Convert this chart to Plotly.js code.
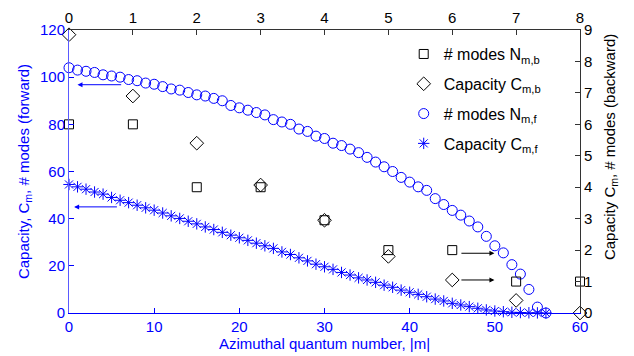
<!DOCTYPE html>
<html><head><meta charset="utf-8">
<script src="https://cdn.plot.ly/plotly-3.0.1.min.js"></script>
<style>html,body{margin:0;padding:0;background:#fff}</style>
</head><body><div id="chart" style="width:634px;height:356px"></div>
<script>
// Forward (bottom x-axis |m|, left y-axis)
const mForward = [0,1,2,3,4,5,6,7,8,9,10,11,12,13,14,15,16,17,18,19,20,21,22,23,24,25,26,27,28,29,30,31,32,33,34,35,36,37,38,39,40,41,42,43,44,45,46,47,48,49,50,51,52,53,54,55,56];
const nModesForward = [104,103,102.5,102,101,100.5,100,99,98.5,97.5,
  97,96,95,94.5,93.5,92.5,92,91,90,88,
  87,86,85,84,82,81,80,78,77,75,
  74,72,71,69.5,68,66,64,62,60,57.5,
  55.5,53.5,52,48.5,46,43.5,41.5,39,36.5,32.5,
  28.5,25.5,20.5,16.5,10,2.5,0];
const capacityForward = [54.5,53.5,52.5,51.3,50.4,49,47.8,46.8,45.7,44.6,
  43.6,42.4,41.2,40.1,38.9,37.8,36.5,35.4,34.2,33,
  31.9,30.8,29.6,28.5,27.4,25.9,24.8,23.4,22.1,20.7,
  19.6,18.5,17.2,16.1,14.9,14,13,11.8,10.9,9.7,
  8.8,7.9,6.9,5.9,5.1,4.1,3.4,2.7,2,1.3,
  0.85,0.55,0.3,0.2,0.1,0.05,0];
// Backward (top x-axis, right y-axis)
const mBackward = [0,1,2,3,4,5,6,7,8];
const nModesBackward = [6,6,4,4,2.95,2,2,1,1];
const capacityBackward = [8.85,6.9,5.4,4.07,2.95,1.8,1.05,0.4,0];

const legendNames = ['# modes N<sub>m,b</sub>','Capacity C<sub>m,b</sub>','# modes N<sub>m,f</sub>','Capacity C<sub>m,f</sub>'];
const rightTitle = 'Capacity C<sub>m</sub>, # modes (backward)';

const FONT = 'Liberation Sans, Arial, sans-serif';
const BLUE = '#0000ff';

const traces = [
  {x: mBackward, y: nModesBackward, xaxis:'x2', yaxis:'y2', mode:'markers', name: legendNames[0], legendgroup:'a',
   marker:{symbol:'square-open', size:9, color:'#000', line:{width:1, color:'#000'}}, cliponaxis:false},
  {x: mBackward, y: capacityBackward, xaxis:'x2', yaxis:'y2', mode:'markers', name: legendNames[1], legendgroup:'b',
   marker:{symbol:'diamond-open', size:10.5, color:'#000', line:{width:1, color:'#000'}}, cliponaxis:false},
  {x: mForward, y: nModesForward, mode:'markers', name: legendNames[2], legendgroup:'c',
   marker:{symbol:'circle-open', size:10, color:BLUE, line:{width:1, color:BLUE}}, cliponaxis:false},
  {x: mForward, y: capacityForward, mode:'markers', name: legendNames[3], legendgroup:'d',
   marker:{symbol:'asterisk-open', size:9.5, color:BLUE, line:{width:1, color:BLUE}}, cliponaxis:false}
];

const arrow = (x, y, ax, ay, xr, yr, col) => ({x:x, y:y, ax:ax, ay:ay, xref:xr, yref:yr, axref:xr, ayref:yr,
  text:'', showarrow:true, arrowhead:2, arrowsize:1, arrowwidth:1, arrowcolor:col});

const layout = {
  width:634, height:356,
  margin:{l:69, r:54, t:30, b:43},
  paper_bgcolor:'#fff', plot_bgcolor:'#fff',
  font:{family:FONT, size:15, color:'#000'},
  showlegend:true,
  legend:{x:0.655, y:0.975, xanchor:'left', yanchor:'top', bgcolor:'rgba(0,0,0,0)',
    font:{family:FONT, size:16, color:'#000'}, traceorder:'grouped', tracegroupgap:6},
  xaxis:{range:[0,60], tickvals:[0,10,20,30,40,50,60], showgrid:false, zeroline:false,
    showline:true, linecolor:BLUE, linewidth:1, ticks:'inside', ticklen:5, tickcolor:BLUE,
    tickfont:{color:BLUE, size:15, family:FONT},
    title:{text:'Azimuthal quantum number, |m|', font:{color:BLUE, size:15, family:FONT}, standoff:2}},
  yaxis:{range:[0,120], tickvals:[0,20,40,60,80,100,120], showgrid:false, zeroline:false,
    showline:true, linecolor:'#5a5aff', linewidth:1, ticks:'inside', ticklen:5, tickcolor:BLUE,
    tickfont:{color:BLUE, size:15, family:FONT},
    title:{text:'Capacity, C<sub>m</sub>, # modes (forward)', font:{color:BLUE, size:15, family:FONT}, standoff:6}},
  xaxis2:{range:[0,8], overlaying:'x', side:'top', anchor:'y2', tickvals:[0,1,2,3,4,5,6,7,8], showgrid:false, zeroline:false,
    showline:true, linecolor:'#333', linewidth:1, ticks:'inside', ticklen:5, tickcolor:'#333',
    tickfont:{color:'#000', size:15, family:FONT}},
  yaxis2:{range:[0,9], overlaying:'y', side:'right', anchor:'x2', tickvals:[0,1,2,3,4,5,6,7,8,9], showgrid:false, zeroline:false,
    showline:true, linecolor:'#333', linewidth:1, ticks:'inside', ticklen:5, tickcolor:'#333',
    tickfont:{color:'#000', size:15, family:FONT}},
  annotations:[
    arrow(1.0, 96.8, 6.3, 96.8, 'x', 'y', BLUE),
    arrow(0.6, 45, 5.8, 45, 'x', 'y', BLUE),
    arrow(6.66, 1.9, 6.12, 1.9, 'x2', 'y2', '#000'),
    arrow(6.66, 1.05, 6.12, 1.05, 'x2', 'y2', '#000'),
    {text: rightTitle, xref:'paper', yref:'paper', x:1.06, y:0.585, xanchor:'center', yanchor:'middle',
     textangle:-90, showarrow:false, font:{family:FONT, size:15, color:'#000'}}
  ]
};

Plotly.newPlot('chart', traces, layout, {displayModeBar:false, staticPlot:true});
</script></body></html>
